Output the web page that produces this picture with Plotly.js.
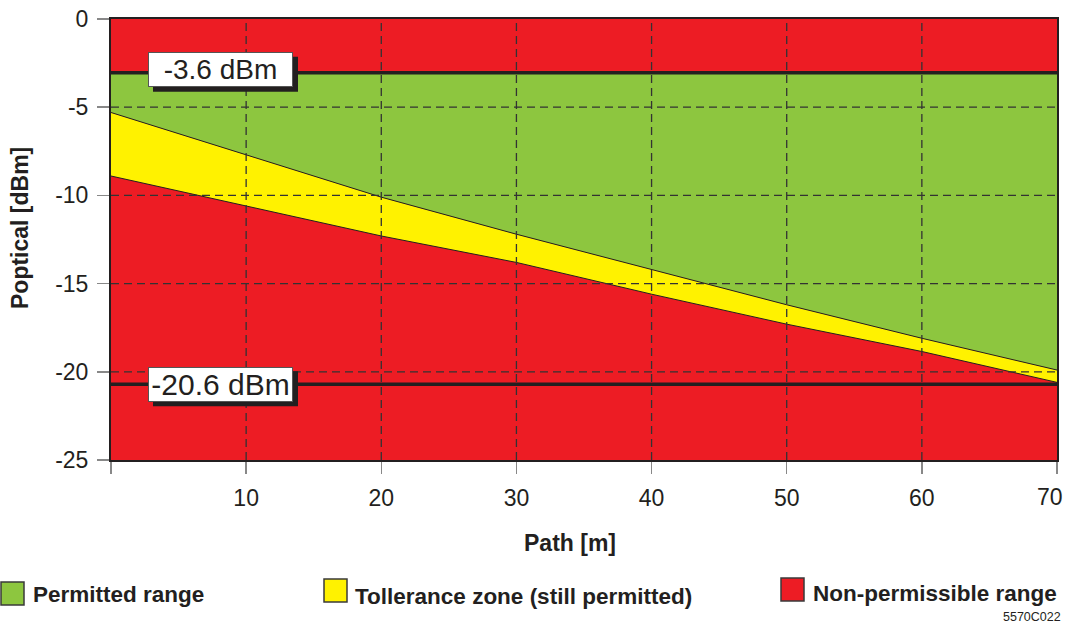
<!DOCTYPE html>
<html>
<head>
<meta charset="utf-8">
<script src="https://cdn.plot.ly/plotly-3.0.1.min.js"></script>
<style>
html,body{margin:0;padding:0;background:#fff;}
#chart{width:1066px;height:626px;}
</style>
</head>
<body>
<div id="chart"></div>
<script>
// ---- data ----
const pathM      = [0, 10, 20, 30, 40, 50, 60, 70];
const tolUpper   = [-5.3, -7.7, -10.1, -12.2, -14.2, -16.2, -18.1, -19.9];
const tolLower   = [-8.9, -10.6, -12.3, -13.8, -15.6, -17.3, -18.85, -20.6];
const limitVals  = [-3.05, -20.7];
const limitTexts = ['-3.6 dBm', '-20.6 dBm'];
const xTickVals  = [0, 10, 20, 30, 40, 50, 60, 70];
const xTickText  = ['', '10', '20', '30', '40', '50', '60', '70'];
const yTickVals  = [0, -5, -10, -15, -20, -25];
const yTickText  = ['0', '-5', '-10', '-15', '-20', '-25'];
const xTitle = 'Path [m]';
const yTitle = 'Poptical [dBm]';
const legendNames = ['Permitted range', 'Tollerance zone (still permitted)', 'Non-permissible range'];
const figCode = '5570C022';

// ---- styling ----
const GREEN = '#8DC63F', YELLOW = '#FFF200', RED = '#ED1C24', INK = '#231F20';
const FONT = 'Liberation Sans, Arial, sans-serif';
const M = {l: 111, r: 9, t: 19, b: 166};
const W = 1066, H = 626;
const pw = W - M.l - M.r, ph = H - M.t - M.b;
const px = v => (v - M.l) / pw;          // pixel -> paper x
const py = v => (H - M.b - v) / ph;      // pixel -> paper y

const xMin = pathM[0], xMax = pathM[pathM.length - 1];
const rev = a => a.slice().reverse();

const traces = [
  {x: [xMin, xMax].concat(rev(pathM)), y: [limitVals[0], limitVals[0]].concat(rev(tolUpper)),
   fill: 'toself', fillcolor: GREEN, mode: 'lines', line: {width: 0}, hoverinfo: 'skip', showlegend: false},
  {x: pathM.concat(rev(pathM)), y: tolUpper.concat(rev(tolLower)),
   fill: 'toself', fillcolor: YELLOW, mode: 'lines', line: {width: 0}, hoverinfo: 'skip', showlegend: false},
  {x: pathM, y: tolUpper, mode: 'lines', line: {color: INK, width: 1}, hoverinfo: 'skip', showlegend: false},
  {x: pathM, y: tolLower, mode: 'lines', line: {color: INK, width: 1}, hoverinfo: 'skip', showlegend: false},
];
limitVals.forEach(v => traces.push({x: [xMin, xMax], y: [v, v], mode: 'lines',
  line: {color: INK, width: 3.5}, hoverinfo: 'skip', showlegend: false}));

const shapes = [];
xTickVals.slice(1, -1).forEach(v => shapes.push({type: 'line', xref: 'x', yref: 'paper',
  x0: v, x1: v, y0: 0, y1: 1, layer: 'above', line: {color: '#333', width: 1.3, dash: '8px,5px'}}));
yTickVals.slice(1, -1).forEach(v => shapes.push({type: 'line', xref: 'paper', yref: 'y',
  x0: 0, x1: 1, y0: v, y1: v, layer: 'above', line: {color: '#333', width: 1.3, dash: '8px,5px'}}));

const annotations = [];
// limit labels: dark shadow rectangle + white text box
const labelCx = px(220.5);
const labelShift = [3, 0];
limitVals.forEach((v, i) => {
  const c = labelShift[i];
  shapes.push({type: 'rect', layer: 'above', xref: 'paper', yref: 'y',
    xsizemode: 'pixel', ysizemode: 'pixel', xanchor: labelCx, yanchor: v,
    x0: -72.5 + 5, x1: 72.5 + 5, y0: c - 4.5 - 17.5, y1: c - 4.5 + 17.5,
    fillcolor: INK, line: {width: 0}});
  annotations.push({xref: 'paper', yref: 'y', x: labelCx, y: v, xanchor: 'center', yanchor: 'middle',
    yshift: c, showarrow: false, text: limitTexts[i],
    font: {family: FONT, size: i === 0 ? 28 : 30, color: INK},
    width: 143, height: 33, align: 'center', valign: 'middle', borderpad: 0,
    bgcolor: '#ffffff', bordercolor: '#555', borderwidth: 1});
});

// the last x tick label sits left of its tick (as in the reference) so it stays inside the page
const lastIdx = xTickVals.length - 1;
const axisTickText = xTickText.map((t, i) => i === lastIdx ? '' : t);
annotations.push({xref: 'x', yref: 'paper', x: xTickVals[lastIdx], y: py(497), xanchor: 'center', yanchor: 'middle',
  xshift: -7, showarrow: false, text: xTickText[lastIdx], font: {family: FONT, size: 23, color: INK}});

// axis titles placed as in the reference
annotations.push({xref: 'paper', yref: 'paper', x: px(570), y: py(543), xanchor: 'center', yanchor: 'middle',
  showarrow: false, text: '<b>' + xTitle + '</b>', font: {family: FONT, size: 23, color: INK}});
annotations.push({xref: 'paper', yref: 'paper', x: px(20), y: py(228), xanchor: 'center', yanchor: 'middle',
  textangle: -90, showarrow: false, text: '<b>' + yTitle + '</b>', font: {family: FONT, size: 23, color: INK}});

// custom legend
const legColors = [GREEN, YELLOW, RED];
const legBox = [[1, 582], [324, 579], [781, 578]];
const legTextX = [31, 353, 811];
const legTextY = [594, 596, 593];
legendNames.forEach((name, i) => {
  const [bx, by] = legBox[i];
  shapes.push({type: 'rect', xref: 'paper', yref: 'paper',
    x0: px(bx), x1: px(bx + 23), y0: py(by + 23), y1: py(by),
    fillcolor: legColors[i], line: {color: '#3a3a3a', width: 1.5}});
  annotations.push({xref: 'paper', yref: 'paper', x: px(legTextX[i]), y: py(legTextY[i]),
    xanchor: 'left', yanchor: 'middle', showarrow: false, text: '<b>' + name + '</b>',
    font: {family: FONT, size: 22.5, color: INK}});
});
annotations.push({xref: 'paper', yref: 'paper', x: px(1063), y: py(617), xanchor: 'right', yanchor: 'middle',
  showarrow: false, text: figCode, font: {family: FONT, size: 12.5, color: INK}});

const layout = {
  width: W, height: H, margin: M,
  paper_bgcolor: '#ffffff', plot_bgcolor: RED,
  font: {family: FONT, color: INK},
  showlegend: false,
  xaxis: {range: [xMin, xMax], tickvals: xTickVals, ticktext: axisTickText,
    showgrid: false, zeroline: false, showline: true, mirror: true, linecolor: INK, linewidth: 2,
    ticks: 'outside', ticklen: 12, tickcolor: '#888', tickwidth: 1.5,
    ticklabelstandoff: 4,
    tickfont: {family: FONT, size: 23, color: INK},
    fixedrange: true},
  yaxis: {range: [-25, 0], tickvals: yTickVals, ticktext: yTickText,
    showgrid: false, zeroline: false, showline: true, mirror: true, linecolor: INK, linewidth: 2,
    ticks: 'outside', ticklen: 12, tickcolor: '#888', tickwidth: 1.5,
    ticklabelstandoff: 4,
    tickfont: {family: FONT, size: 23, color: INK},
    fixedrange: true},
  shapes: shapes,
  annotations: annotations
};

Plotly.newPlot('chart', traces, layout, {displayModeBar: false, staticPlot: true});
</script>
</body>
</html>
